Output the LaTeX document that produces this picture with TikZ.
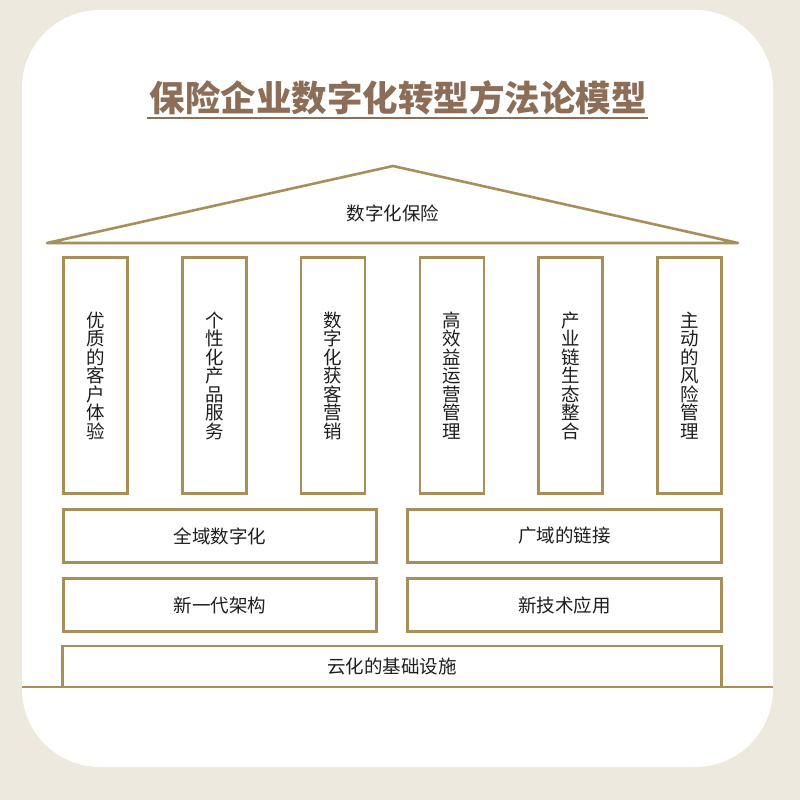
\documentclass[tikz,border=0pt]{standalone}
\usepackage{fontspec}
\setmainfont{Noto Sans CJK SC}
\usetikzlibrary{positioning}
\definecolor{gold}{RGB}{166,143,88}
\definecolor{titlebrown}{RGB}{140,110,88}
\definecolor{paper}{RGB}{238,233,222}
\definecolor{ink}{RGB}{30,30,30}

\begin{document}
\begin{tikzpicture}[x=1pt, y=-1pt,
  box/.style={draw=gold, line width=2.6pt, inner sep=0pt, text=ink},
  pillar/.style={box, minimum width=64pt, minimum height=236pt, align=center,
    font=\fontsize{18.5}{18.5}\selectfont},
  bar/.style={box, minimum height=53pt, font=\fontsize{18.5}{22}\selectfont}]
  % Background
  \fill[paper] (0,0) rectangle (800,800);
  \fill[white, rounded corners=78pt] (22,10) rectangle (773,767);
  \useasboundingbox (0,0) rectangle (800,800);

  % Title
  \node[inner sep=0pt, text=titlebrown, font=\fontsize{35.5}{40}\selectfont\bfseries] (title) at (398,98) {保险企业数字化转型方法论模型};
  \draw[titlebrown, line width=2pt] (147,118) -- (648,118);

  % Roof
  \coordinate (eaveL) at (47,243);
  \coordinate (apex) at (393,166);
  \coordinate (eaveR) at (738,243);
  \draw[gold, line width=2.6pt, line join=round] (eaveL) -- (apex) -- (eaveR) -- cycle;
  \node[text=ink, font=\fontsize{18.5}{22}\selectfont] (roof) at (393,213) {数字化保险};

  % Pillars
  \foreach \i/\txt in {1/{优\\质\\的\\客\\户\\体\\验}, 2/{个\\性\\化\\产\\品\\服\\务},
      3/{数\\字\\化\\获\\客\\营\\销}, 4/{高\\效\\益\\运\\营\\管\\理},
      5/{产\\业\\链\\生\\态\\整\\合}, 6/{主\\动\\的\\风\\险\\管\\理}}
    \node[pillar] (p\i) at ({95.5+(\i-1)*118.8},375.5) {\txt};

  % Foundation
  \node[bar, minimum width=313pt] (domain) at (220,536) {全域数字化};
  \node[bar, minimum width=314pt] (link) at (564.5,536) {广域的链接};
  \node[bar, minimum width=313pt] (arch) at (220,605) {新一代架构};
  \node[bar, minimum width=314pt] (tech) at (564.5,605) {新技术应用};
  \node[bar, minimum width=659pt, minimum height=41pt] (cloud) at (392,666.5) {云化的基础设施};

  % Ground
  \coordinate (groundL) at (22,687);
  \coordinate (groundR) at (773,687);
  \draw[gold, line width=2.6pt] (groundL) -- (groundR);
\end{tikzpicture}
\end{document}
